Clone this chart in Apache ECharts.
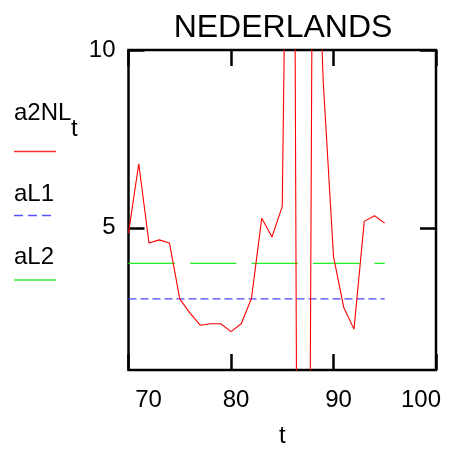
<!DOCTYPE html>
<html>
<head>
<meta charset="utf-8">
<script src="https://cdn.jsdelivr.net/npm/echarts@6/dist/echarts.min.js"></script>
<style>
html,body{margin:0;padding:0;background:#fff;}
#chart{width:451px;height:454px;}
</style>
</head>
<body>
<div id="chart"></div>
<script>
// ---- data ----
const years = [70,71,72,73,74,75,76,77,78,79,80,81,82,83,84,85,86,87,88,89,90,91,92,93,94,95];
const a2NL  = [4.85,6.80,4.57,4.66,4.57,3.00,2.60,2.26,2.30,2.30,2.08,2.30,3.02,5.27,4.74,5.60,29,-44,17,9.1,4.19,2.76,2.15,5.18,5.34,5.13];
const aL1   = [3,3,3,3,3,3,3,3,3,3,3,3,3,3,3,3,3,3,3,3,3,3,3,3,3,3];
const aL2   = [4,4,4,4,4,4,4,4,4,4,4,4,4,4,4,4,4,4,4,4,4,4,4,4,4,4];
const xTicks = [70,80,90,100];
const yTicks = [5,10];
const titleText = 'NEDERLANDS';
const xName = 't';
const legendNames = ['a2NL','aL1','aL2'];

const FONT = '"Liberation Sans", Arial, sans-serif';
const pair = (vals) => years.map((t,i)=>[t, vals[i]]);

const chart = echarts.init(document.getElementById('chart'), null, {renderer:'canvas'});

const richBase = {fontSize:24, fontFamily:FONT, color:'#000'};
const xRich = {
  lo: Object.assign({padding:[0,0,0,40]}, richBase),
  mid: Object.assign({padding:[0,0,0,10]}, richBase),
  hi: Object.assign({padding:[0,30,0,0]}, richBase)
};

const option = {
  backgroundColor:'#fff',
  animation:false,
  title:{
    text:titleText, left:278, top:7, textAlign:'center',
    textStyle:{fontSize:32, fontWeight:'normal', color:'#000', fontFamily:FONT}
  },
  grid:{left:128.5, top:50, width:307.5, height:320, show:true, borderColor:'#000', borderWidth:2.5, backgroundColor:'transparent'},
  xAxis:[{
    type:'value', min:xTicks[0], max:xTicks[xTicks.length-1], interval:10,
    position:'bottom',
    axisLine:{show:false}, splitLine:{show:false},
    axisTick:{show:true, inside:true, length:16, lineStyle:{color:'#000', width:2.5}},
    axisLabel:{
      margin:18, showMinLabel:true, showMaxLabel:true,
      formatter:function(v){
        const k = v===xTicks[0] ? 'lo' : (v===xTicks[xTicks.length-1] ? 'hi' : 'mid');
        return '{'+k+'|'+v+'}';
      },
      rich:xRich, fontSize:24, fontFamily:FONT, color:'#000'
    },
    name:xName, nameLocation:'middle', nameGap:54,
    nameTextStyle:{fontSize:24, fontFamily:FONT, color:'#000'}
  },{
    type:'value', min:xTicks[0], max:xTicks[xTicks.length-1], interval:10,
    position:'top',
    axisLine:{show:false}, splitLine:{show:false}, axisLabel:{show:false},
    axisTick:{show:true, inside:true, length:16, lineStyle:{color:'#000', width:2.5}}
  }],
  yAxis:[{
    type:'value', min:1, max:10, position:'left',
    axisLine:{show:false}, splitLine:{show:false},
    axisTick:{show:true, inside:true, length:16, customValues:yTicks, lineStyle:{color:'#000', width:2.5}},
    axisLabel:{customValues:yTicks, margin:13, padding:[8,0,0,0], fontSize:24, fontFamily:FONT, color:'#000'}
  },{
    type:'value', min:1, max:10, position:'right',
    axisLine:{show:false}, splitLine:{show:false}, axisLabel:{show:false},
    axisTick:{show:true, inside:true, length:16, customValues:yTicks, lineStyle:{color:'#000', width:2.5}}
  }],
  series:[
    {name:legendNames[2], type:'line', data:pair(aL2), showSymbol:false, clip:true,
     lineStyle:{color:'#22ee22', width:1.2, type:[46.5,15]}, z:2},
    {name:legendNames[1], type:'line', data:pair(aL1), showSymbol:false, clip:true,
     lineStyle:{color:'#4848ff', width:1.2, type:[8,4]}, z:2},
    {name:legendNames[0], type:'line', data:pair(a2NL), showSymbol:false, clip:true,
     lineStyle:{color:'#ff0000', width:1.1}, z:3}
  ],
  graphic:[
    {type:'text', x:14, y:113.5, style:{text:legendNames[0], font:'24px '+FONT, fill:'#000', verticalAlign:'middle'}},
    {type:'text', x:71, y:129.5, style:{text:'t', font:'24px '+FONT, fill:'#000', verticalAlign:'middle'}},
    {type:'line', shape:{x1:14, y1:151.5, x2:56, y2:151.5}, style:{stroke:'#ff3030', lineWidth:1.5}},
    {type:'text', x:14, y:194.5, style:{text:legendNames[1], font:'24px '+FONT, fill:'#000', verticalAlign:'middle'}},
    {type:'line', shape:{x1:14, y1:215.5, x2:54, y2:215.5}, style:{stroke:'#5555ff', lineWidth:1.5, lineDash:[9,5]}},
    {type:'text', x:14, y:257.5, style:{text:legendNames[2], font:'24px '+FONT, fill:'#000', verticalAlign:'middle'}},
    {type:'line', shape:{x1:14, y1:280, x2:56, y2:280}, style:{stroke:'#33ee33', lineWidth:1.5}}
  ]
};
chart.setOption(option);
</script>
</body>
</html>
